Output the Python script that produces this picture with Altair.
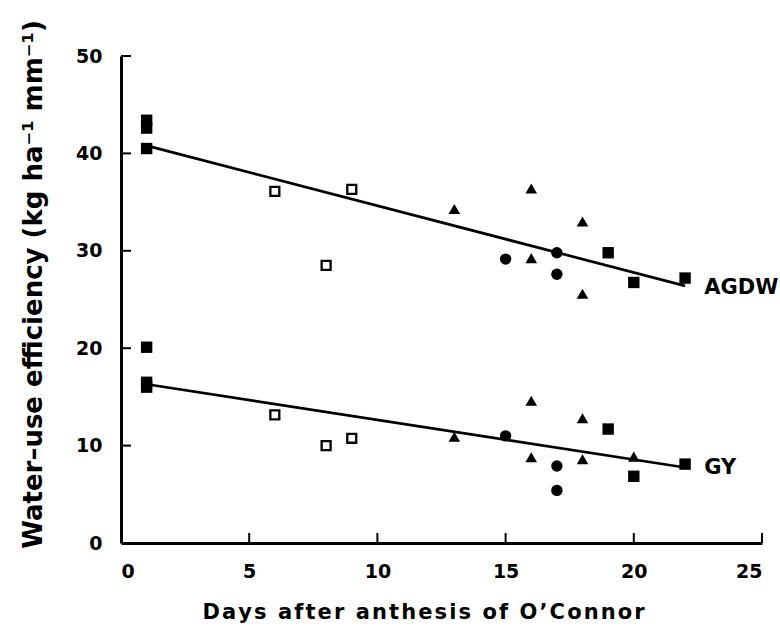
import altair as alt
import pandas as pd

# Water-use efficiency (kg ha-1 mm-1) against days after anthesis of O'Connor.
# Each marker type is kept as its own pair of arrays.

# AGDW
agdw_fsq_day = [1, 1, 1, 19, 20, 22]
agdw_fsq_wue = [43.4, 42.6, 40.5, 29.8, 26.75, 27.2]
agdw_osq_day = [6, 8, 9]
agdw_osq_wue = [36.1, 28.5, 36.3]
agdw_tri_day = [13, 16, 16, 18, 18]
agdw_tri_wue = [34.3, 36.4, 29.25, 33.0, 25.6]
agdw_cir_day = [15, 17, 17]
agdw_cir_wue = [29.15, 29.8, 27.6]

# GY
gy_fsq_day = [1, 1, 1, 19, 20, 22]
gy_fsq_wue = [20.1, 16.5, 16.0, 11.7, 6.85, 8.1]
gy_osq_day = [6, 8, 9]
gy_osq_wue = [13.15, 10.0, 10.75]
gy_tri_day = [13, 16, 16, 18, 18, 20]
gy_tri_wue = [10.9, 14.6, 8.8, 12.8, 8.6, 8.87]
gy_cir_day = [15, 17, 17]
gy_cir_wue = [11.0, 7.9, 5.4]

# Fitted regression lines (end points)
fit_day = [1, 22]
agdw_fit = [40.8, 26.4]
gy_fit = [16.3, 7.75]

# Series labels at the right end of each line
label_text = ["AGDW", "GY"]
label_day = [22.75, 22.75]
label_wue = [26.2, 7.65]

x_tick_values = [5, 10, 15, 20, 25]
y_tick_values = [10, 20, 30, 40, 50]
x_label_values = [0, 5, 10, 15, 20, 25]
y_label_values = [0, 10, 20, 30, 40, 50]

x_title = "Days after anthesis of O\u2019Connor"
y_title = "Water\u2013use efficiency (kg ha\u207b\u00b9 mm\u207b\u00b9)"

W, H = 641, 487
FONT = "DejaVu Sans"


def tracked(s, gap="\u200a"):
    """Lightly letter-spaced version of a title string."""
    return gap.join(s)


rows = []
for marker, d1, v1, d2, v2 in [
    ("filled_square", agdw_fsq_day, agdw_fsq_wue, gy_fsq_day, gy_fsq_wue),
    ("open_square", agdw_osq_day, agdw_osq_wue, gy_osq_day, gy_osq_wue),
    ("triangle", agdw_tri_day, agdw_tri_wue, gy_tri_day, gy_tri_wue),
    ("circle", agdw_cir_day, agdw_cir_wue, gy_cir_day, gy_cir_wue),
]:
    rows += [{"day": d, "wue": v, "marker": marker, "trait": "AGDW"} for d, v in zip(d1, v1)]
    rows += [{"day": d, "wue": v, "marker": marker, "trait": "GY"} for d, v in zip(d2, v2)]
points = pd.DataFrame(rows)

fits = pd.DataFrame(
    [{"day": d, "wue": v, "trait": "AGDW"} for d, v in zip(fit_day, agdw_fit)]
    + [{"day": d, "wue": v, "trait": "GY"} for d, v in zip(fit_day, gy_fit)]
)
labels = pd.DataFrame({"text": label_text, "day": label_day, "wue": label_wue})

x_scale = alt.Scale(domain=[0, 25], nice=False, zero=False)
y_scale = alt.Scale(domain=[0, 50], nice=False, zero=False)

x_axis = alt.Axis(
    values=x_label_values, ticks=False, grid=False,
    domainWidth=3, domainColor="black",
    labelFont=FONT, labelFontWeight="bold", labelFontSize=19, labelColor="black",
    labelPadding=19,
    title=tracked(x_title),
    titleFont=FONT, titleFontWeight="bold", titleFontSize=21, titleColor="black",
    titleX=302, titleY=75, titleAnchor="middle", titleBaseline="alphabetic", titleAlign="center",
)
y_axis = alt.Axis(
    values=y_label_values, ticks=False, grid=False,
    domainWidth=3, domainColor="black",
    labelFont=FONT, labelFontWeight="bold", labelFontSize=19, labelColor="black",
    labelPadding=19,
    title=y_title,
    titleFont=FONT, titleFontWeight="bold", titleFontSize=26, titleColor="black",
    titleAngle=270, titleX=-88, titleY=228, titleAlign="center", titleBaseline="middle",
)

base_x = alt.X("day:Q", scale=x_scale, axis=x_axis)
base_y = alt.Y("wue:Q", scale=y_scale, axis=y_axis)

# Inward-pointing tick marks
x_ticks = alt.Chart(pd.DataFrame({"day": x_tick_values})).mark_rule(
    color="black", strokeWidth=2
).encode(x=alt.X("day:Q", scale=x_scale), y=alt.value(H), y2=alt.value(H - 10))
y_ticks = alt.Chart(pd.DataFrame({"wue": y_tick_values})).mark_rule(
    color="black", strokeWidth=2
).encode(y=alt.Y("wue:Q", scale=y_scale), x=alt.value(0), x2=alt.value(10))

lines = alt.Chart(fits).mark_line(color="black", strokeWidth=2.7).encode(
    x=base_x, y=base_y, detail="trait:N"
)


def pts(marker):
    return alt.Chart(points).transform_filter(alt.datum.marker == marker)


filled_sq = pts("filled_square").mark_point(
    shape="square", filled=True, size=130, color="black", opacity=1
).encode(x=base_x, y=base_y)
open_sq = pts("open_square").mark_point(
    shape="square", filled=False, size=80, color="black", strokeWidth=2.3,
    fill="white", fillOpacity=1, opacity=1
).encode(x=base_x, y=base_y)
tri = pts("triangle").mark_point(
    shape="triangle-up", filled=True, size=135, color="black", opacity=1
).encode(x=base_x, y=base_y)
cir = pts("circle").mark_point(
    shape="circle", filled=True, size=130, color="black", opacity=1
).encode(x=base_x, y=base_y)

text = alt.Chart(labels).mark_text(
    font=FONT, fontWeight="bold", fontSize=21, align="left", baseline="middle", color="black"
).encode(x=alt.X("day:Q", scale=x_scale), y=alt.Y("wue:Q", scale=y_scale), text="text:N")

chart = alt.layer(lines, x_ticks, y_ticks, filled_sq, open_sq, tri, cir, text).properties(
    width=W, height=H,
    padding={"left": 121, "top": 56, "right": 780 - 121 - W, "bottom": 644 - 56 - H},
    autosize=alt.AutoSizeParams(type="none"),
    background="white",
).configure_view(stroke=None)

chart.save("out.html", embed_options={"renderer": "svg", "actions": False})
